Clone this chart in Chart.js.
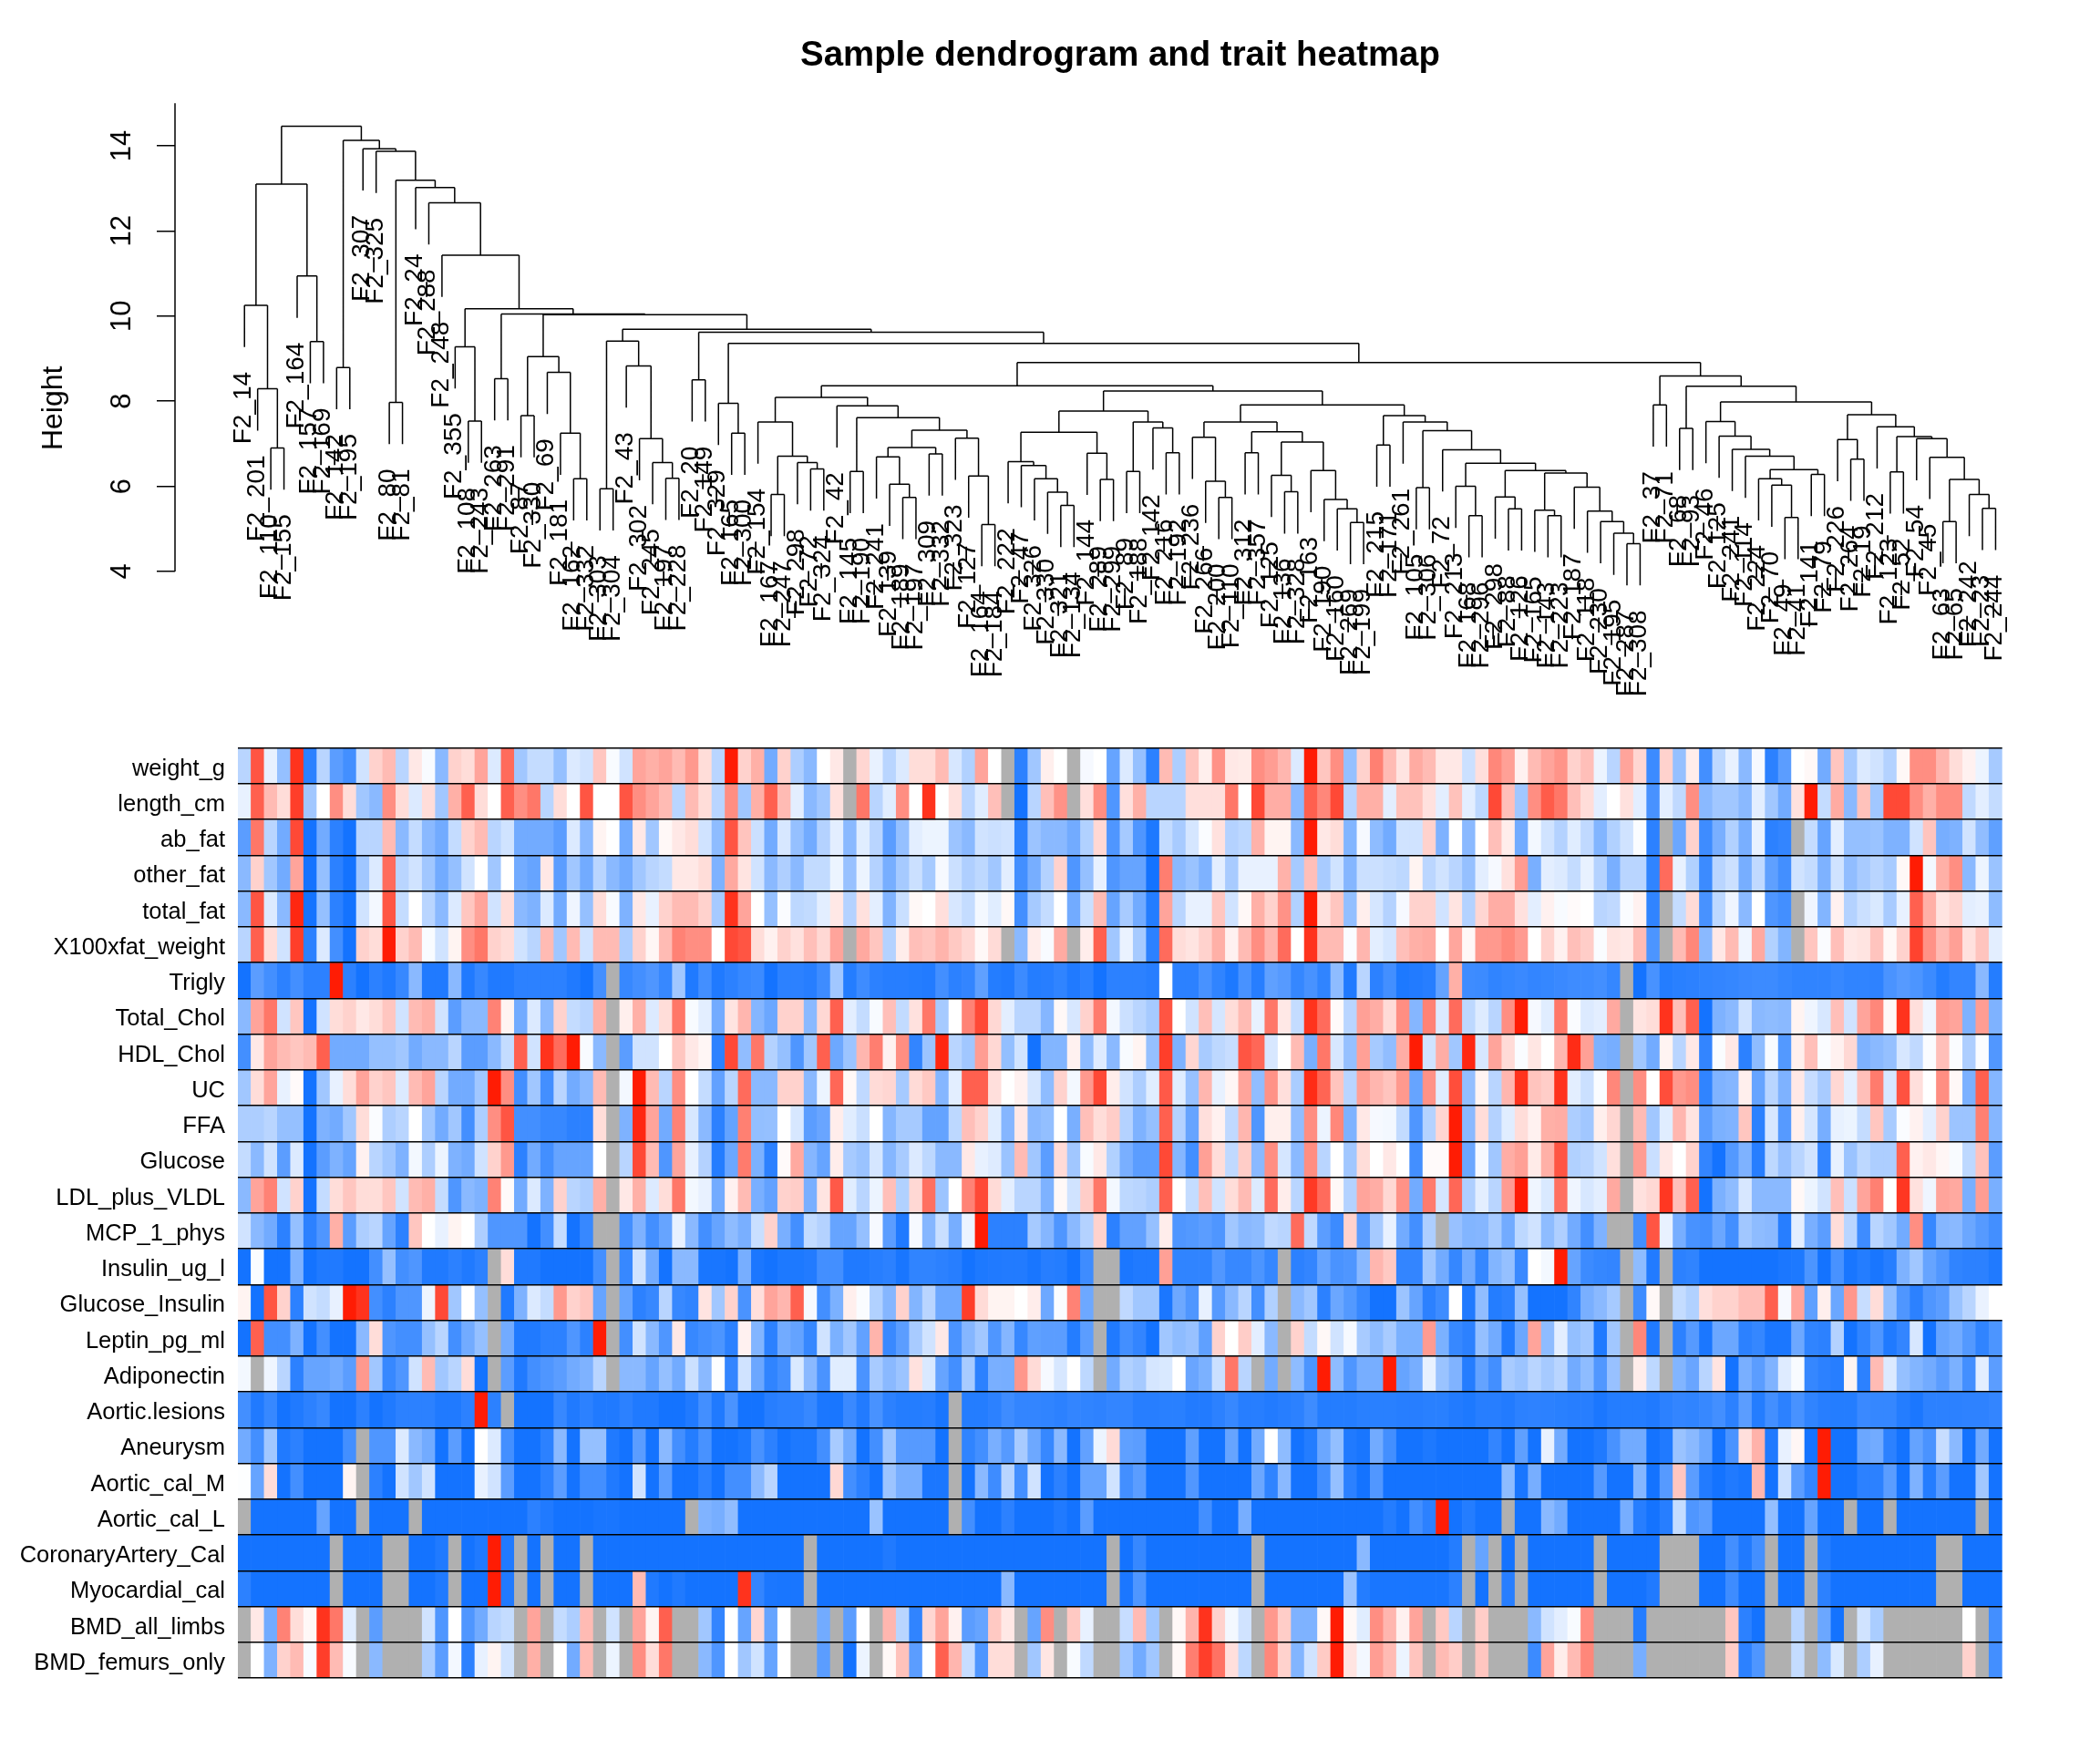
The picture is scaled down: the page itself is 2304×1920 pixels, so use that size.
<!DOCTYPE html>
<html>
<head>
<meta charset="utf-8">
<title>Sample dendrogram and trait heatmap</title>
<script src="https://cdn.jsdelivr.net/npm/chart.js@4"></script>
<style>
  html, body { margin: 0; background: #fff; overflow: hidden; width: 2304px; height: 1920px; }
  canvas { position: absolute; left: 0; }
  #dendro { top: 0; }
  #heat { top: 800px; }
</style>
</head>
<body>
<canvas id="dendro" width="2458" height="800"></canvas>
<canvas id="heat" width="2304" height="1120"></canvas>
<script>
const NA = null;

const leafLabels = [
  "F2_14","F2_201","F2_110","F2_155","F2_164","F2_157","F2_169","F2_142","F2_195","F2_307",
  "F2_325","F2_80","F2_81","F2_24","F2_288","F2_248","F2_355","F2_108","F2_243","F2_263",
  "F2_291","F2_87","F2_330","F2_69","F2_181","F2_162","F2_332","F2_303","F2_304","F2_43",
  "F2_302","F2_245","F2_197","F2_228","F2_20","F2_149","F2_329","F2_165","F2_300","F2_154",
  "F2_167","F2_247","F2_298","F2_72","F2_324","F2_42","F2_145","F2_190","F2_241","F2_139",
  "F2_189","F2_197","F2_309","F2_332","F2_323","F2_127","F2_164","F2_184","F2_222","F2_47",
  "F2_326","F2_330","F2_321","F2_134","F2_144","F2_289","F2_299","F2_89","F2_188","F2_142",
  "F2_216","F2_192","F2_236","F2_266","F2_200","F2_110","F2_312","F2_357","F2_125","F2_136",
  "F2_328","F2_163","F2_190","F2_160","F2_269","F2_199","F2_215","F2_171","F2_261","F2_105",
  "F2_306","F2_72","F2_213","F2_168","F2_296","F2_298","F2_88","F2_126","F2_165","F2_143",
  "F2_223","F2_187","F2_118","F2_230","F2_195","F2_287","F2_308","F2_37","F2_71","F2_68",
  "F2_93","F2_46","F2_125","F2_241","F2_114","F2_224","F2_70","F2_49","F2_41","F2_141",
  "F2_79","F2_226","F2_264","F2_19","F2_212","F2_123","F2_52","F2_54","F2_45","F2_63",
  "F2_65","F2_242","F2_23","F2_244"
];

const traitNames = [
  "weight_g","length_cm","ab_fat","other_fat","total_fat","X100xfat_weight","Trigly","Total_Chol",
  "HDL_Chol","UC","FFA","Glucose","LDL_plus_VLDL","MCP_1_phys","Insulin_ug_l","Glucose_Insulin",
  "Leptin_pg_ml","Adiponectin","Aortic.lesions","Aneurysm","Aortic_cal_M","Aortic_cal_L",
  "CoronaryArtery_Cal","Myocardial_cal","BMD_all_limbs","BMD_femurs_only"
];

const heightTicks = [4, 6, 8, 10, 12, 14];
const leafDrop = 0.98;

// dendrogram branches: [height, left, right], a plain number is a leaf index
const branchA = [13.1, [10.25, 0, [8.29, 1, [6.9, 2, 3]]], [10.94, 4, [9.4, 5, 6]]];
const branchK = [9.28, 16, [7.53, 17, 18]];
const branchO = [9.05, [7.66, 21, 22], [8.68, 23, [7.25, 24, [6.18, 25, 26]]]];
const branchQ = [9.41, [5.94, 27, 28], [8.83, 29, [7.12, 30, [6.56, 31, [6.19, 32, 33]]]]];
const branchV = [7.95, 36, [7.25, 37, 38]];
const branchX1 = [8.09,
  [7.51, 39, [6.71, [5.81, 40, 41], [6.56, 42, [6.41, 43, 44]]]],
  [7.89, 45, [7.61, [6.35, 46, 47],
    [7.32, [6.91, [6.69, 48, [6.05, 49, [5.74, 50, 51]]], [6.76, 52, 53]],
      [7.13, 54, [6.24, 55, [5.1, 56, 57]]]]]]];
const branchX2L = [7.77,
  [7.27, [6.58, 58, [6.49, 59, [6.18, 60, [5.86, 61, [5.55, 62, 63]]]]], [6.78, 64, [6.16, 65, 66]]],
  [7.51, [6.35, 67, 68], [7.37, 69, [6.79, 70, 71]]]];
const branchAC = [7.31, [5.97, 89, 90], [6.86, 91, [6.54,
  [6.0, 92, [5.31, 93, 94]],
  [6.37, [5.75, 95, [5.47, 96, 97]],
    [6.31, [5.44, 98, [5.31, 99, 100]],
      [5.98, 101, [5.42, 102, [5.17, 103, [4.9, 104, [4.65, 105, 106]]]]]]]]]];
const branchX2R = [7.91,
  [7.51, [7.15, 72, [6.12, 73, [5.74, 74, 75]]],
    [7.28, [6.79, 76, 77],
      [7.04, [6.26, 78, [5.87, 79, 80]], [6.37, 81, [5.69, 82, [5.47, 83, [5.15, 84, 85]]]]]]],
  [7.66, [6.97, 86, 87], [7.51, 88, branchAC]]];
const branchAF = [7.52, 111, [7.18, 112, [6.87, 113, [6.71, 114,
  [6.39, [6.18, 115, [6.03, 116, [5.27, 117, 118]]], [6.28, 119, 120]]]]]];
const branchAG = [7.68, [7.1, 121, [6.64, 122, 123]],
  [7.4, 124, [7.17, [6.34, 125, 126],
    [7.12, 127, [6.68, 128, [6.16, [5.17, 129, 130], [5.81, 131, [5.48, 132, 133]]]]]]]];
const branchAD = [8.59, [7.91, 107, 108], [8.35, [7.36, 109, 110], [7.98, branchAF, branchAG]]];
const branchW = [8.91, [8.36, branchX1, [8.24, branchX2L, branchX2R]], branchAD];
const branchS = [9.62, [8.5, 34, 35], [9.36, branchV, branchW]];
const branchJ = [10.17, branchK, [10.05, [8.53, 19, 20], [10.03, branchO, [9.69, branchQ, branchS]]]];
const branchF = [13.19, [7.97, 11, 12], [13.02, 13, [12.66, 14, [11.43, 15, branchJ]]]];
const dendroRoot = [14.46, branchA, [14.13, [8.79, 7, 8], [13.93, 9, [13.87, 10, branchF]]]];

// trait values, -10 (blue) to 10 (red)
const weight_g = [-3,7.5,-1,-4.5,9,-9,-3,-7,-8,-2,2,3,-3,1,-.3,-5,2,1.5,4,-1.5,6.5,-4,-2.5,-2.5,-4.5,-1.5,-2,2.5,-.3,-2,4,3.5,4,3,
  4.5,1.5,-3,10,2,3.5,-6,2,-3.5,-5,0,1,NA,1.8,-1,-3,-1.5,1.5,1.5,3,-1.7,-3.3,4,0,NA,-9,-4,.7,0,NA,-.4,0,-6.5,-1.5,
  -4.5,-9,3,-3.5,2.6,.7,4.8,1,.9,5,4.3,3.2,-1.5,10,2.5,5,-4.5,2,5.6,3,1.2,3.7,3,1,1,-2.2,1.4,5.3,4.2,.6,3,4,4.7,2,2.8,
  -.8,-3,4,1.8,-8.3,2,-4.5,.8,-8,-2.8,-1,-5,-.4,-9,-7,0,.3,-6,2.5,-3.8,-1.5,-2,-3.2,.3,5,5,3.2,1.5,.6,-.8,-3.8];
const length_cm = [-1,7,3,1.5,8.5,-4,0,5,1.5,-4,-5,5,1.5,-1.5,1.5,-4,3.5,7,1.5,0,7,5,6,-3,1.5,0,7.5,0,0,7.5,5,4,3,-3,
  3,1.5,-3,5,-4,3.5,7,3,-1.2,-5,-4,1.3,NA,6,-3,-1.3,5,0,9,0,1.3,-3,-1.3,2.8,NA,-10,-3,2.8,4.8,NA,1.4,5,-7.5,1.4,
  3.5,-3,-3,-3,1.4,1.4,1.4,6,0,8,3.6,3.6,-5,7,5.3,8,-3,3.5,3.5,-1.2,2.7,2.7,1.3,-1.2,2.7,-1.2,-2.8,8,2.8,-4,5,7.2,6,2.8,1.5,
  -1.2,0,1.3,-1.2,-7.8,-1.2,-2.7,5,-5,-4,-4,-5,-1.2,-4,-6,1.3,10,-2.5,3.7,-5,2.7,-4,8,8,5,3.5,5,5,-2.7,-1.2,-2.5];
const ab_fat = [-7,6,-3,-6,8,-10,-6,-9,-10,-3,-3,3,-5,-2.5,-5,-6,-2.5,2,3,-3,-2,-6,-6,-6,-7,-1.5,-5,.5,0,-6,1,-4,.3,1,
  1.5,-2,-4.8,7.5,2.6,-2.2,-6,-1.7,-4.5,-6,-3.2,-1.2,-5,-1.3,-3,-7,-4.5,-1.2,-.8,-.8,-4.2,-5,-2,-2.2,-2,-9,-4.2,-5,-5,-6,-3.3,1.7,-7.5,-3.8,
  -7.5,-9.6,-2.5,-3.7,-1.8,-.2,1.3,-3.2,-2.8,3.4,.5,.5,-5,10,1,1.5,-5.3,-.4,-4.8,-6,-2,-2,2,-5.5,0,-5,0,2.8,.8,-6,-.5,-2,-3.2,-1.3,-2.7,
  -5.3,-3.3,-2,-.2,-9,NA,-6.3,2,-8.2,-5.7,-3.3,-5.7,-1,-9,-8.7,NA,-2.5,-6.5,-1.2,-4.5,-4.5,-4.3,-5.5,-5.5,-2,2.6,-5.8,-5.5,-2,-4.7,-6.8];
const other_fat = [-5,2,-4,-6,4,-10,-4.5,-9,-10,-4,-1.5,6.5,-3,-2,-4,-6,-4.5,-2,0,-4,0,-6,-6.5,1,-7,-4,-6,-3,-5,-6,-4,-3,-2.5,1,
  1,1.5,-5.5,3.8,1.2,-2,-5,-3.4,-5,-2.6,-2.6,-.8,-4.4,-.8,-3.2,-5.8,-3.8,-2.2,-3.8,-.4,-2.2,-3.4,-2.8,-4,-1.2,-8,-5.8,-3.2,2,-7.5,-4.5,-1,-7.5,-6.5,
  -6.5,-10,5.7,-5,-4.3,-5.5,-1.2,-3.7,-1,-1,-1,3.4,-3.8,2.8,-3.7,-2,-5.2,-2.2,-2.2,-2.5,-2.8,.5,-2.9,-2,-3,-4.5,-1.2,-.4,1.3,4.4,-5.7,-1.2,-1.5,-2.5,-1,
  -3.2,-5.7,-3,-3,-8.8,6.5,-1,-3.3,-8.3,-3,-2.2,-5.8,-2.7,-6.8,-8,-2,-2.5,-5.5,-2,-4.7,-3.7,-3,-3.7,.3,10,-.5,3.5,5,-5,-.8,-4.3];
const total_fat = [-5,7.5,-1.5,-5,9.5,-10,-4.5,-9,-10,-2,-.5,7.5,-2.5,0,-3,-5,-1.5,2.5,4,-2,1.5,-5,-5.5,-1.5,-6,-.7,-4.5,1.5,-.3,-5.5,1,-1,2,3,
  3,2,-3.8,9,4,0,-4.5,-.2,-2.8,-2.6,-1.2,1,-3.2,1.3,-1.2,-5.4,-2.3,.3,0,1.4,-1.7,-2.5,-.5,-1.3,.3,-8,-3.8,-2.5,0,-6,-2.3,3,-6.5,-3.7,
  -6,-9.3,4,-3,-1,-1,2.5,-2,.3,3.5,2,4.8,-3.3,10,1.3,2.5,-4.6,.7,-1.8,-3.2,-.4,2,2,-2,1.2,-3.2,1.8,3.6,3.6,1.3,-1.2,.6,-.3,.2,0,
  -3,-2.7,-.2,.6,-8.8,NA,-2.5,1.6,-7.8,-2.8,-.7,-5,0,-7.5,-8,NA,-.7,-5.3,.6,-3.2,-2.2,-1.6,-3.7,-1,7,3.5,1.2,1.8,-1.2,-1,-4.8];
const X100xfat_weight = [-3,7,1.5,-2,8.5,-9,-1.5,-8,-10,2,1.5,10,2,3,-.3,-2,.5,5,6,2,1.5,-2,-3,3,-4,3,-2,3,3,-3.5,2,.4,3,5.5,
  5,5,0,8,7.5,1.5,.6,2,1.3,2.8,1.7,4,NA,3.8,2.5,-3.2,.8,2.8,2.5,3.3,2.4,1.7,.3,1.6,NA,-5,.8,-.3,3.7,NA,.8,7,-4,-.9,
  -3.8,-9,6.5,1.5,1.2,2,3.5,.6,3,5,3.2,6.5,0,9,3,3,-.2,3.2,-1.2,-1.8,2.8,3.5,3.7,0,3.9,.3,4.5,4.5,5.2,4.4,0,2,.6,2.8,2.2,
  -.2,1.2,1,3,-7.6,NA,3,5.3,-5,1,3,-.7,3.8,-3.3,-5.3,NA,2.5,-.2,2.8,1,1.2,2.6,.3,2,8.3,4.8,3,4.2,1.3,2.6,-1.2];
const Trigly = [-10,-7,-8,-9,-8,-9,-9,10,-9,-10,-9,-9.5,-8.5,-5,-9.5,-9.5,-5,-9.5,-8.5,-9.5,-9.5,-9,-9,-9,-9,-9.5,-10,-8,NA,-8.5,-8,-7.5,-8.5,-4,
  -9.5,-8,-9.5,-9,-8.5,-8.3,-10,-9,-9,-9.2,-8.2,-4,-9.3,-8.2,-9,-9.2,-9.2,-9.3,-9.4,-8,-9,-8.7,-6.8,-9.3,-9.5,-8.3,-9.3,-9.2,-8.8,-9.5,-9,-10,-9,-9,
  -9,-9.2,0,-9,-9,-7.8,-8.8,-9.6,-7.8,-9.2,-6.8,-7.2,-8.6,-7.8,-8.8,-4.8,-9.5,-3,-9,-8,-9.6,-9.4,-9.2,-6.6,3.5,-8.2,-8.3,-8.8,-8.6,-8.4,-8.7,-8.6,-8.4,-8.2,-8.2,
  -8,-8.6,NA,-10,-7.8,-9.3,-9.1,-9,-8.8,-8.7,-8.6,-8.4,-8.3,-8.3,-8.6,-8.8,-8.8,-8.8,-8.5,-8.8,-8.8,-8.9,-7.7,-7.2,-7.6,-8.3,-9.3,-8.7,-8.7,-5,-9.3];
const Total_Chol = [-5,4,6,-2,2.5,-10,-2,1.5,2,1,1.5,2.5,-2,3,3.5,-2,-7,-5,-5,5.5,.5,-6,-1.5,-5,2,-2.5,-3,3.5,NA,.7,3.5,-1.5,1.5,6,
  -.3,-1.2,-6,1.2,3.2,-5.2,-6.3,2,2,-5,1.7,7,-1.2,-2.5,-.3,2.8,-2.6,1.3,6,-3.8,0,5.5,8,1.7,-1.2,-3,-3,-5.2,.3,-1.7,2,5.8,-.5,-2.2,
  -3,-3.8,7.5,0,-2,2.8,-1.8,1.5,3,-1,6,1,-2.5,9,6.5,.2,-3,4.2,3.6,1.6,5,-5.2,5.5,-1.5,6.5,-2.8,-1.4,-3,5,10,-.4,-1.3,6,-.2,-1.5,
  -1.2,3.8,NA,1.2,1.5,9,2.8,7,-10,-5.5,-5,-2,-5,-4.8,-5,.5,-.7,-1.7,2.8,-2,4,5.3,.3,9,1.4,-.7,4.3,4,-5.5,4.3,-5.5];
const HDL_Chol = [-8,1,4,3,2.5,3,7,-6,-6,-6,-4.5,-4.5,-4,-6,-5,-5,-3,-7,-7,-5,-2.5,7,-2,9,6.5,10,-.3,-5,NA,-7,-2,-2,0,2.5,
  1,.4,-9,8,-4.7,6,-3.2,-4.5,-7.5,-4,7,-6.2,-4.2,3.2,5.7,.6,5,-8.7,-4.2,9.5,-3,-4,4.3,1.7,-4.6,-2,-10,-5.3,-5.3,.6,-4.8,-1.4,-5,-.3,
  .5,-4.5,8.5,-5.5,1.8,-3.7,-2.8,-2.4,7.5,6.7,-1.7,0,3,-5.7,6,-1.7,-4.5,4.2,-3.8,-4.7,3.6,10,-2,3.6,-4,9.5,-1.7,4,1.6,-.2,1.1,0,3.2,9.3,4.2,
  -5.5,-5.8,NA,-4,-6,.5,-3,1,-8.7,-.2,1,-9,-4.8,-.3,-7.3,.7,2.8,-.2,.6,1.7,-5.5,-5,-4.5,-1.7,-2.7,-.2,2.8,-.2,-3.5,-.2,-7.4];
const UC = [-4,1.5,4,-1,.2,-10,-4,-1,1.5,4,2,2.5,-1.5,3,4,-3,-6,-6,-4,10,5,-8,-4,-8,-3,-6,-5,3,NA,-.5,10,3,-3,5,
  0,-2.5,-6.7,-3,6.5,-5,-5,2,2,-5,-.8,6.7,.3,-2.7,1.6,1.8,-3.8,1.6,2.4,-5.2,-1.2,7,7,1.4,0,.6,-1.8,-4.8,2,-.5,4.5,8,.8,-2,
  -3.5,-1.3,7.3,-1.3,-4.4,3.2,-1,.4,4,-4.7,4.8,1.4,-3.6,9.3,6.8,2.6,-3,4.2,3.2,2.6,4.5,-6.5,4.8,-1.3,7.8,-4.6,.5,-3,3.2,9,2.6,2.2,9,-1.2,-2.2,
  -.2,5.3,NA,5,0,7.8,4.5,5,-8.8,-5.4,-5.2,.7,-6.5,-3,-5.5,1,-2.4,-3.7,1.7,-1.2,2.8,5.8,-1.7,7.6,1.4,0,5,.3,-5.6,7,-5.2];
const FFA = [-3.5,-3.5,-3,-4.5,-4.5,-10,-5.5,-6,-4,1.5,-.2,-3.5,-3,0,-4,-6,-4,-8,-3.5,5,7.5,-8,-8,-8.5,-8.5,-9,-9,1.5,NA,-5.5,9.5,4,-6,5.5,
  -1.7,-5,-9,-6.6,5.6,-4.6,-4.5,0,-1.7,-7,-6.4,.8,-1.3,-2.3,0,-5.2,-3.8,-3.8,-6.6,-6.6,-2.8,2.8,2,-1.3,-5.2,1,-5,-4.6,0,-5.7,2.8,1.5,2.2,-3.2,
  -5.5,-4.5,7,-3.2,-6.5,1.4,.6,-2.7,3.2,-7.5,.7,.7,-4.7,5,-.8,5.3,-5.5,1,-.4,-.5,-2.6,-7.5,-3.2,1.8,10,-5,1.5,-3.2,-1.3,1.5,.6,3.5,3.6,-3.5,-4,
  .7,1.8,NA,3,-4,-1.3,3.2,1.2,-7,-5.6,-5.4,2.5,-9,-1.7,-7.2,.7,-1.8,-5.8,-1,-.8,-2.5,2.5,-3.7,-.2,.6,-1.2,2,-4.2,-4.2,5.6,-5.2];
const Glucose = [-2.5,-5,-2,-7,-1.5,-10,-7,-5.5,-6.5,.6,-3,-4,-5.5,-.5,-3.5,-.8,-5.5,-6,-2,2,4.5,-9,-6,-8,-6.5,-6.5,-6.5,0,NA,-3,8,3,-7.5,4,
  -1,-3.2,-9.3,-6.3,5.8,-5.6,-9,.2,3.8,-5.2,-6.5,.8,-3.8,-4.3,-1.8,-5.2,-3.7,-1.5,-2.8,-5,-5,1,-1,-1.4,-4.3,3,-4,-7,1.6,-4,-.3,1,-3.3,-5.7,
  -7,-7,8,-5.2,-8,4.2,1.5,-2.7,2.2,-5,5,-1.8,-5,5,-3,0,-4,1.5,0,1,0,-8,.2,.2,10,-6.3,-.4,-4,3.6,4.2,.9,3.5,7.5,-3.3,-3,
  -2,1.4,NA,4.3,-2.3,1,0,2,-8.7,-10,-7.3,-5.5,-9.2,-2.8,-4.4,-3,-2,-8.7,-1,-4.3,-2.8,-3.5,-3.5,7,.6,1,.4,-.3,-2.8,2.7,-7];
const LDL_plus_VLDL = [-5,4,5.5,-2,2,-10,-2.5,1.5,2.5,1.5,1.5,2.5,-2,3,3.5,-2.5,-7.5,-5,-5.5,5.5,.2,-6,-1.5,-5.5,2,-3,-3.5,3.5,NA,1,3.5,-1.5,1.5,6,
  -.5,-1,-6,.6,3,-5.7,-6.7,2,2.2,-5.7,1.2,7.3,-1.3,-3,-.8,2.8,-3.3,1.7,6.3,-4.2,0,5.5,8,1.6,-1.2,-3,-3,-5.5,.3,-2,2.2,6,-.5,-2.8,
  -3,-3.5,7,0,-2.5,2.8,-2,1.5,3,-1.5,6.5,.8,-3,8.7,6.5,.3,-3.2,4,3.6,1.7,4.8,-6,5.8,-1.8,6.7,-3.4,-1.2,-3,4.4,10,-.7,-1.6,6.3,-.7,-1.7,
  -1.2,3.8,NA,1.3,1.7,8.8,2.8,7,-10,-5.6,-4.8,-1.7,-5,-5,-5,.3,-.8,-2,2.8,-2.2,4,5.6,0,8.8,1.3,-.7,4,3.8,-5.7,4.3,-5.7];
const MCP_1_phys = [-2,-5,-6,-9,-4.5,-9,-7.5,3.5,-7,-3.5,-3,-6.5,-9,2.5,0,-1,.5,0,-3.5,-7.5,-7.5,-7.5,-10,-8,-2.5,-10,-8.5,NA,NA,-8,-5.5,-8,-6.5,-1,
  -5,-8,-6.5,-4.8,-5.7,-2.3,2,-5.7,-8,-2.6,-3.2,-6.5,-6.5,-4.5,-.4,-7,-9.5,-.4,-5.2,-2.3,-5.8,-.8,10,-9,-9,-9,-3.8,-5.2,-7.5,-5,-3.2,2,-9,-6.7,
  -6.7,-4.5,.8,-7.5,-7.3,-7,-7.5,-4,-5,-4.8,-2.7,-3,6.5,-2.7,-7,-8.3,2,-7,-3.8,-1,-6,-8,-3.5,NA,-4.4,-5.3,-5.2,-3.8,-6,-2.8,-2,-4.8,-3.4,-6,-8,
  -5.5,NA,NA,-8,7.5,-1,-5.8,-7.8,-8,-6.3,-8,-4,-4.8,-5,-9.2,-1.2,-5.7,-7,1.5,-3,-8.2,-3,-4,-6,5,-8.5,-5.2,-5,-6.3,-7.2,-8];
const Insulin_ug_l = [-10,-.2,-10,-10,-5.5,-10,-9.5,-9.5,-10,-10,-8,-4.5,-8,-7.5,-9.5,-9.5,-9,-9.5,-9,NA,1.5,-9.5,-9.5,-10,-10,-10,-10,-8,NA,-8.5,-2,-6,-10,-5,
  -5,-9.8,-9.8,-10,-5.8,-9.7,-10,-9.6,-9.6,-9.4,-8,-8,-9.5,-9.5,-9.2,-9,-9.8,-8.8,-8.8,-9,-9.2,-10,-9.6,-9.5,-9.4,-9.4,-9.8,-9.2,-9.3,-10,-8.2,NA,NA,-9.7,
  -9.5,-9.5,4.2,-8.8,-8.8,-8.8,-7.4,-8.5,-8.5,-7.6,-8.6,NA,-9,-8.7,-6.5,-7.7,-7.5,-5,3.2,2.4,-8.7,-8.7,-4,-6,-8.6,-6,-8.6,-5.3,-4.5,-8.4,0,-.5,10,-6.5,-8.3,
  -8.6,-8.7,NA,-4.8,-9.4,NA,-9,-8.8,-10,-10,-10,-10,-10,-10,-9.7,-9.6,-7.6,-10,-7.8,-9.8,-9.3,-9.8,-9.2,-5.5,-4,-6.5,-7.4,-8.8,-9,-9,-9.5];
const Glucose_Insulin = [.5,-10,7.5,2,-9,-2,-2.5,-1,10,9,-8,-9,-7.5,-7.5,-.7,8,-4,0,-4.5,NA,-9.5,-5.5,-1.5,-2.5,4.5,2,2.5,-6.5,NA,-6.5,-9,-8.5,-3,-8.5,
  -8.8,1.2,-4,2,-7.7,1.4,4,3.2,7,-.4,-8,-5.6,.7,-.2,-3.3,-5.2,2,-5.3,-3,-6.2,-6.2,8.5,1.6,.5,.5,0,.8,-6.2,-.2,5.5,-6.2,NA,NA,-2.7,
  -4,-4,-9.7,-6.2,-7.5,-1,-7.2,-5,-3,-8,-3.3,NA,-5,-4,-9,-6.3,-7.3,-8.5,-10,-10,-4.2,-6.5,-9,-8.2,0,-9.5,-4.7,-9.3,-9,-4.5,-10,-10,-10,-8.8,-5.7,
  -5,-3.8,NA,-8.2,.3,NA,-2.5,-3.3,1.4,2,2,2.8,2.8,7,-.4,4,-6.8,.7,-6.3,4.6,-2.4,1.5,-4.6,-7.5,-9,-7.5,-7,-4.3,-3,-.9,0];
const Leptin_pg_ml = [-10,7,-8,-8,-5.5,-10,-8,-10,-10,-5,1.5,-7.5,-8,-8,-4.5,-3,-8,-6,-4.5,NA,-6,-9.5,-9.5,-9,-9,-7.5,-9,10,NA,-8,-2,-5,-7.5,1,
  -8.5,-8,-7.6,-9,.6,-5.3,-9,-6,-6.6,-8.5,-2,-5.6,-4,-6.7,3.3,-8.4,-7,-3.7,-2,1,-7.7,-5.2,-4,-7.5,-5.2,-8.5,-6.8,-7,-7,-9.3,-7,NA,-9.5,-8,
  -8.7,-10,-4,-4.8,-4.4,-6.8,2,0,2.2,-1.2,-5,NA,2,-2.5,.3,-2,-.4,-3.7,-4.8,-3.7,-5.6,-5.6,4.4,-5.6,-8.5,-9,-4.5,-6,-9.5,-6.3,4,-4.8,-1.2,-4.6,-4,
  -9.5,-4,NA,5.3,-9.5,NA,-9,-7.2,-9.7,-6.3,-6.3,-9,-8.6,-9.7,-9.7,-6.2,-8.8,-9,-3.2,-10,-8.8,-7.5,-9.5,-8.7,-1.7,-10,-6.5,-6,-7.3,-8.8,-7.6];
const Adiponectin = [-.5,NA,-.7,-3,-9,-6.5,-6.5,-6,-7,4.5,-4,-8.5,-7.5,-2,3,-4,-3,1.5,-10,NA,-7,-9.5,-8,-7.5,-7,-6,-5.5,-3,NA,-5,-5,-6.5,-4.5,-6,
  -2.2,-5,-.1,-8.7,-2,-6.3,-8.8,-8,-1.6,-5,-7.7,-1.3,-1.3,-7.7,-3.7,-5,-4.2,1.3,-1.6,-6.5,-8,-3.7,-9,-5.7,-5.8,4.6,1.6,-.4,-1.7,0,-2.8,NA,-6,-3.3,
  -3.8,-1.8,-1.6,0,-6.4,-5.6,-2.2,6,-3,NA,-6,NA,-4.8,-7.6,10,-4.8,-7.5,-5.8,-5.8,10,-6.5,-5.8,-1,-4.3,-5.4,-9.3,-6.6,-8,-3.7,-4.2,-3,-3.8,-3,-6,-4.8,
  -7.4,-4.4,NA,.8,-2.8,NA,-5.3,-6.4,-3,1.2,-10,-5.7,-7,-5.4,-1.4,-.3,-8.6,-9,-9.2,.5,-9,3,-1.5,-4.5,-5.3,-6,-7,-5.6,-8,-1.2,-7];
const Aortic_lesions = [-8,-9.5,-8.5,-10,-9.5,-9,-8.5,-10,-10,-9,-10,-9.5,-9,-9,-9,-9.5,-9.5,-9,10,-9,NA,-10,-10,-10,-8.5,-9.5,-9,-9.5,-9.5,-9,-9.5,-9.5,-10,-10,
  -9.5,-8,-9.5,-7.7,-10,-10,-9.2,-9,-9,-8.5,-9.7,-9.8,-8.4,-9.4,-7.8,-9,-9.3,-9.3,-9.2,-9.8,NA,-9.3,-9.3,-9,-8.2,-8.7,-8.7,-8.8,-9,-8.7,-8.8,-8.9,-8.7,-8.7,
  -9.2,-9.2,-9.1,-9.1,-9.4,-9.4,-9,-8.5,-9.2,-9.2,-9.4,-9.2,-9,-8.2,-9.3,-9.3,-9.3,-9.1,-9.1,-9.1,-9.2,-9.2,-9.1,-9.1,-9.4,-9.6,-9.2,-9.2,-9.4,-9,-8.9,-9,-9.1,-9.2,-9.2,
  -9.7,-9.3,-9.3,-9.3,-9.5,-9,-8.7,-8.8,-8.5,-8,-9,-7,-9.3,-8,-9,-7.8,-8.8,-9.2,-9.3,-9.3,-8.4,-8.6,-8.6,-9.3,-9.7,-9,-9,-9,-8.9,-8.9,-8.7];
const Aneurysm = [-6,-8,-4,-9.5,-9,-10,-10,-10,-8,NA,-7.5,-7.5,-1.5,-5,-6,-10,-7,-10,0,-1.5,-8,-10,-10,-9,-5,-10,-4.5,-4.5,-9.5,-10,-7,-10,-5,-8,
  -9.3,-7.8,-10,-10,-9.6,-7.8,-9,-10,-9.6,-9.6,-8,-3.7,-6,-10,-8,-4,-7.2,-7.2,-7.2,-10,NA,-8.8,-8,-5.7,-7.2,-3.7,-6.2,-8.5,-5,-10,-6.7,-.8,1.6,-6.8,
  -7,-10,-10,-10,-6.8,-10,-10,-6.5,-10,-6,0,-4.8,-10,-9.3,-6.3,-4.6,-9.5,-9.8,-6,-8,-10,-10,-9.6,-10,-10,-10,-10,-8.7,-10,-6.8,-10,-1,-6,-10,-10,
  -9.5,-7.8,-6,-6,-10,-9.5,-4.3,-5,-6.3,-10,-7.7,1.4,3.4,-9.5,-1,.4,-10,10,-10,-10,-6.3,-6,-9,-10,-6.6,-7.7,-2.4,-5,-10,-6,-10];
const Aortic_cal_M = [-.1,-6.5,1.5,-10,-8,-10,-10,-10,.5,NA,-9,-10,-2,-4,-2,-10,-10,-10,-1,-2,-7,-10,-10,-9,-7,-10,-8,-8,-9.5,-10,-2,-10,-7,-10,
  -10,-9,-10,-8,-8,-5,-3,-10,-10,-10,-10,1.7,-8,-9,-10,-4.2,-5.8,-5.8,-9.7,-9.7,NA,-10,-5,-8.2,-3,-8,-2,-10,-9,-10,-6.5,-6.5,-2,-8,
  -7,-10,-10,-10,-7.4,-10,-10,-10,-10,-6.3,-8.8,-5,-10,-10,-8,-4.5,-9,-10,-7.4,-10,-10,-10,-10,-10,-10,-10,-10,-10,-4.8,-9.8,-5.8,-10,-10,-10,-10,
  -7.2,-10,-10,-5.2,-10,-7.2,2.5,-7,-9.4,-10,-9.5,-9.8,3.2,-10,-2.2,-7,-8.7,10,-10,-10,-9,-9,-7,-10,-5.5,-9.3,-7,-10,-10,-4,-10];
const Aortic_cal_L = [NA,-10,-10,-10,-10,-10,-6.5,-10,-10,NA,-10,-10,-10,NA,-10,-10,-10,-10,-10,-10,-10,-10,-9,-9.5,-10,-10,-10,-9.8,-9.8,-10,-10,-10,-10,-10,
  NA,-5.4,-5.8,-4.7,-10,-10,-10,-10,-10,-10,-10,-10,-10,-10,-4.3,-10,-10,-10,-10,-10,NA,-8,-10,-10,-9,-10,-10,-10,-9.5,-10,-7,-10,-10,-10,
  -10,-10,-10,-10,-10,-8,-10,-10,-5.8,-10,-10,-10,-10,-10,-10,-10,-10,-10,-10,-9.3,-10,-8,-9,10,-10,-9.3,-10,-10,NA,-10,-10,-5,-6,-10,-10,
  -10,-10,-5.8,-9.2,-10,-9.2,-2.5,-7.5,-7,-10,-10,-10,-10,-4.6,-10,-10,-6.5,-10,-10,NA,-10,-10,NA,-10,-10,-10,-10,-10,-10,NA,-10];
const CoronaryArtery_Cal = [-10,-10,-10,-10,-10,-10,-10,NA,-10,-10,-10,NA,NA,-10,-10,-9.5,NA,-10,-9.5,10,-9.5,NA,-10,NA,-10,-10,NA,-10,-10,-10,-10,-10,-10,-10,
  -10,-10,-10,-10,-10,-10,-10,-10,-10,NA,-10,-10,-10,-10,-10,-9.5,-10,-10,-10,-10,-10,-10,-10,-10,-10,-10,-10,-10,-10,-10,-10,-10,NA,-10,
  -8.5,-10,-10,-10,-10,-10,-10,-10,-10,NA,-10,-10,-10,-10,-10,-10,-10,-5,-10,-10,-10,-10,-10,-10,-9.3,NA,-6.5,NA,-10,NA,-10,-10,-10,-10,-10,
  NA,-10,-10,-10,-10,NA,NA,NA,-10,-10,-8,-9.5,-8,NA,-10,-10,NA,-9.3,-10,-10,-10,-10,-10,-10,-10,-10,NA,NA,-10,-10,-10];
const Myocardial_cal = [-9,-10,-10,-10,-10,-10,-10,NA,-10,-10,-10,NA,NA,-10,-10,-9.5,NA,-10,-10,10,-9.5,NA,-10,NA,-10,-10,NA,-10,-10,-10,3,-9.5,-10,-9.5,
  -10,-10,-10,-10,9,-8.7,-9.7,-9.8,-9.8,NA,-10,-10,-10,-10,-10,-10,-10,-10,-10,-10,-10,-10,-10,-10,-5,-10,-10,-10,-10,-10,-10,-10,NA,-9.7,
  -7.5,-10,-10,-10,-10,-10,-10,-10,-10,NA,-10,-10,-10,-10,-10,-10,-4.2,-9.3,-9.8,-9.8,-9.8,-9.8,-9.8,-9.8,-9,NA,-10,NA,-9.2,NA,-10,-10,-10,-10,-10,
  NA,-10,-10,-10,-9.5,NA,NA,NA,-10,-10,-8.2,-10,-10,NA,-10,-10,NA,-9,-10,-10,-10,-10,-10,-10,-10,-10,NA,NA,-10,-10,-10];
const BMD_all_limbs = [NA,1,-6,5.5,1.5,.3,9,6,-1.3,NA,-7,NA,NA,NA,-2,-7.5,0,-7.5,-6,-3,-2.5,NA,4,NA,-2.5,-3.5,3,NA,-2,NA,4,.5,7,NA,
  NA,-4,-8.7,0,-6.5,1.8,-6.5,0,NA,NA,-6,NA,-7,0,NA,3.2,-3,-8.8,1.8,4,.6,-7,-6.5,2.4,1,NA,-6.5,5,NA,2.4,-1,NA,NA,-2.4,
  3,-4,NA,.3,3.3,9,2,-.5,-2,NA,4.5,2.2,-5.5,-5.5,.3,10,.3,-1.3,5,3.2,.6,4,NA,2.4,-3,NA,2.2,NA,NA,NA,-5,-2,-1.2,-.3,5,
  NA,NA,NA,-9.3,NA,NA,NA,NA,NA,NA,2.5,-9,-10,NA,NA,-3,NA,-6.3,-10,NA,-2,-3.6,NA,NA,NA,NA,NA,NA,0,NA,-8];
const BMD_femurs_only = [NA,0,-5.5,2,3,-.3,8.5,3,-.3,NA,-5,NA,NA,NA,-3.5,-7,-.5,-9,-1,.5,-2,NA,3.5,NA,0,-6,3,NA,-.8,NA,5,1.5,6,NA,
  NA,-5,-7.5,0,-4,-2,-6.5,0,NA,NA,-7,NA,-10,-.8,NA,.3,2.7,-7,0,7,3.2,-2.4,-7.5,1.5,1.5,NA,-4,1.1,NA,-.3,-2.7,NA,NA,-4,
  -6,-4,NA,.3,5.7,8.5,6.2,1.4,-2.8,NA,5.3,2,-5.3,-2,2.3,10,1.2,-.5,4.3,3,-.8,2.6,NA,3,2.2,NA,2.5,NA,NA,NA,-8.3,4,.8,3,5.3,
  NA,NA,NA,-5.8,NA,NA,NA,NA,NA,NA,2.2,-9,-7.5,NA,NA,-2.5,NA,-4.8,-1.6,NA,-3.5,-1,NA,NA,NA,NA,NA,NA,2,NA,-8];

const traitValues = [weight_g, length_cm, ab_fat, other_fat, total_fat, X100xfat_weight, Trigly, Total_Chol,
  HDL_Chol, UC, FFA, Glucose, LDL_plus_VLDL, MCP_1_phys, Insulin_ug_l, Glucose_Insulin, Leptin_pg_ml,
  Adiponectin, Aortic_lesions, Aneurysm, Aortic_cal_M, Aortic_cal_L, CoronaryArtery_Cal, Myocardial_cal,
  BMD_all_limbs, BMD_femurs_only];

Chart.defaults.font.family = "'Liberation Sans', Arial, sans-serif";
Chart.defaults.color = "#000";

function valueColor(v) {
  if (v === null) return "#b0b0b0";
  const t = Math.abs(v) / 10;
  if (v >= 0) return `rgb(255,${Math.round(255 - 227 * t)},${Math.round(255 - 251 * t)})`;
  return `rgb(${Math.round(255 - 235 * t)},${Math.round(255 - 140 * t)},255)`;
}

// walk the tree into line segments, NaN points break the line
const dendroPoints = [];
const leafEnds = [];

function walk(node) {
  if (typeof node === "number") return { x: node, top: null };
  const left = walk(node[1]);
  const right = walk(node[2]);
  const h = node[0];
  [left, right].forEach((child) => {
    const bottom = child.top === null ? h - leafDrop : child.top;
    if (child.top === null) leafEnds[child.x] = bottom;
    dendroPoints.push({ x: child.x, y: bottom }, { x: child.x, y: h }, { x: NaN, y: NaN });
  });
  dendroPoints.push({ x: left.x, y: h }, { x: right.x, y: h }, { x: NaN, y: NaN });
  return { x: (left.x + right.x) / 2, top: h };
}
walk(dendroRoot);

// the x range runs past the last leaf so that the title centres over the heatmap
const xStart = -5.277;
const xEnd = 151.59;
const axisLine = [{ x: xStart, y: 4 }, { x: xStart, y: 15 }];

const leafText = {
  id: "leafText",
  afterDatasetsDraw(chart) {
    const { ctx, scales } = chart;
    ctx.save();
    ctx.font = "28px 'Liberation Sans'";
    ctx.fillStyle = "#000";
    ctx.textAlign = "right";
    ctx.textBaseline = "alphabetic";
    leafLabels.forEach((label, i) => {
      ctx.save();
      ctx.translate(scales.x.getPixelForValue(i) + 7, scales.y.getPixelForValue(leafEnds[i]) + 27);
      ctx.rotate(-Math.PI / 2);
      ctx.fillText(label, 0, 0);
      ctx.restore();
    });
    ctx.restore();
  },
};

new Chart(document.getElementById("dendro"), {
  type: "scatter",
  data: {
    datasets: [
      { data: dendroPoints, showLine: true, borderColor: "#000", borderWidth: 1.5, pointRadius: 0, clip: false, spanGaps: false },
      { data: axisLine, showLine: true, borderColor: "#000", borderWidth: 1.5, pointRadius: 0, clip: false },
    ],
  },
  plugins: [leafText],
  options: {
    responsive: false,
    animation: false,
    devicePixelRatio: 1,
    layout: { padding: { bottom: 17.6 } },
    plugins: {
      legend: { display: false },
      tooltip: { enabled: false },
      title: {
        display: true,
        text: "Sample dendrogram and trait heatmap",
        color: "#000",
        font: { size: 38.4, weight: "bold" },
        padding: { top: 38.4, bottom: 28.8 },
      },
    },
    scales: {
      x: { type: "linear", min: xStart, max: xEnd, display: false },
      y: {
        type: "linear",
        min: 0.671,
        max: 15,
        afterBuildTicks(scale) { scale.ticks = heightTicks.map((value) => ({ value })); },
        afterFit(scale) { scale.width = 192; scale.paddingTop = 0; scale.paddingBottom = 0; },
        title: { display: true, text: "Height", font: { size: 32 }, color: "#000", padding: { top: 39.5 } },
        border: { display: false },
        grid: { drawOnChartArea: false, tickLength: 20, color: "#000", lineWidth: 1.5 },
        ticks: { font: { size: 31 }, color: "#000", minRotation: 90, maxRotation: 90, crossAlign: "center", padding: 20.5 },
      },
    },
  },
});

new Chart(document.getElementById("heat"), {
  type: "bar",
  data: {
    labels: leafLabels,
    datasets: traitValues.map((values, row) => ({
      label: traitNames[row],
      data: values.map(() => [row, row + 1]),
      backgroundColor: values.map(valueColor),
      borderWidth: 0,
      grouped: false,
      barPercentage: 1,
      categoryPercentage: 1,
      yAxisID: "y",
    })),
  },
  options: {
    responsive: false,
    animation: false,
    devicePixelRatio: 1,
    layout: { padding: { top: 20.5, bottom: 79, right: 107.3 } },
    plugins: { legend: { display: false }, tooltip: { enabled: false } },
    scales: {
      x: { type: "category", display: false, grid: { display: false } },
      y: { type: "linear", min: 0, max: 26, reverse: true, display: false },
      traits: {
        type: "category",
        position: "left",
        labels: traitNames,
        offset: true,
        afterFit(scale) { scale.width = 261; scale.paddingTop = 0; scale.paddingBottom = 0; },
        border: { display: false },
        grid: { offset: true, z: 1, color: "#000", lineWidth: 1.5, drawTicks: false },
        ticks: { autoSkip: false, font: { size: 25.5 }, color: "#000", padding: 14, labelOffset: 3.5 },
      },
    },
  },
});
</script>
</body>
</html>
